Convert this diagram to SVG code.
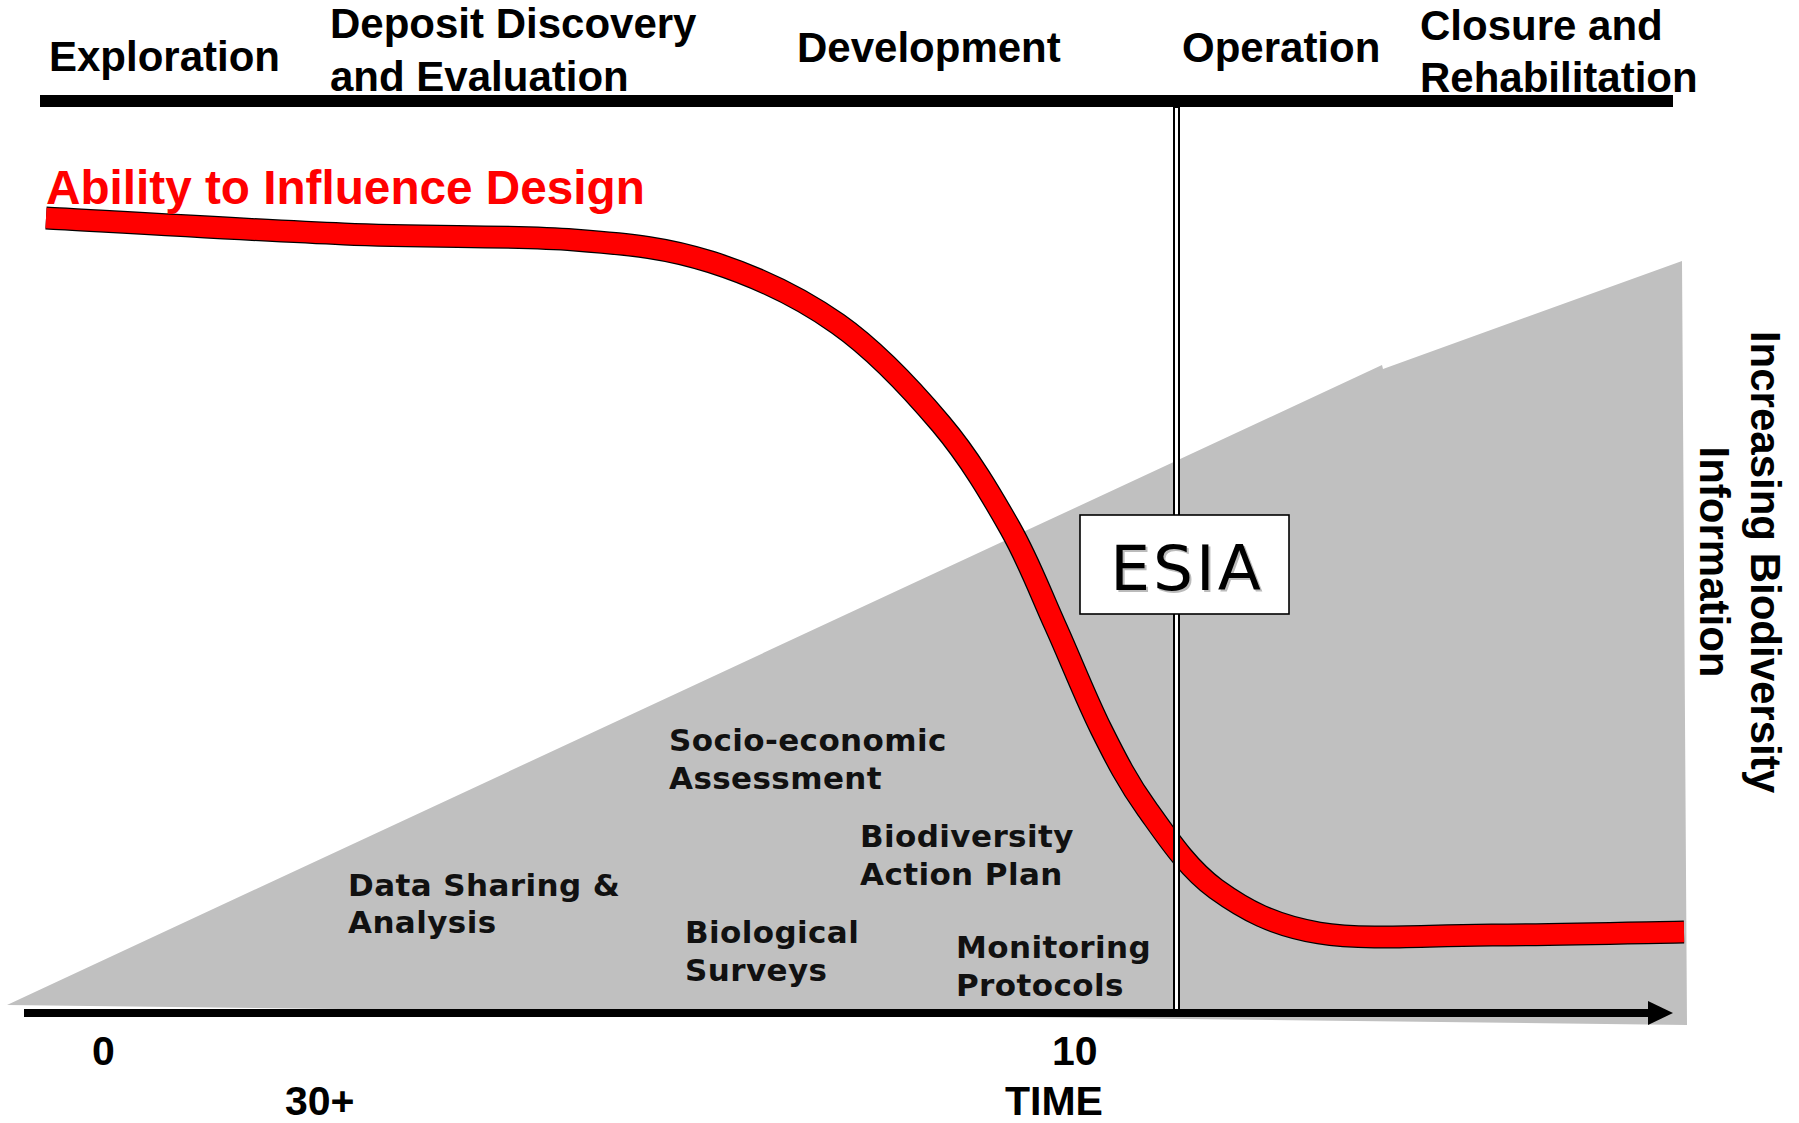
<svg xmlns="http://www.w3.org/2000/svg" width="1799" height="1123" viewBox="0 0 1799 1123">
<defs>
<style>
.hdr{font-family:"Liberation Sans",Arial,sans-serif;font-weight:bold;font-size:42px;fill:#000}
.ttl{font-family:"Liberation Sans",Arial,sans-serif;font-weight:bold;font-size:47.7px;fill:#FF0000}
.lbl{font-family:"DejaVu Sans",Verdana,sans-serif;font-weight:bold;font-size:31px;letter-spacing:0.4px;fill:#111}
.ax{font-family:"Liberation Sans",Arial,sans-serif;font-weight:bold;font-size:41px;fill:#000}
.esia{font-family:"DejaVu Sans",Verdana,sans-serif;font-size:63px;letter-spacing:3px}
</style>
</defs>
<rect width="1799" height="1123" fill="#FFFFFF"/>
<g id="info-wedge">
<polygon points="7,1005 1382,365 1383,369 1682,261 1687,1025" fill="#C0C0C0"/>
</g>
<g id="connectors">
<line id="top-bar" x1="40" y1="101" x2="1673" y2="101" stroke="#000" stroke-width="12"/>
<line id="time-axis" x1="24" y1="1013" x2="1650" y2="1013" stroke="#000" stroke-width="8"/>
<polygon id="time-arrowhead" points="1648,1001 1673,1013 1648,1025" fill="#000"/>
</g>
<g id="influence-curve">
<path id="curve-outline" d="M46,218 C95.7,220.7 256,230.3 344,234 C432,237.7 512.8,235.3 574,240 C635.2,244.7 667,248 711,262 C755,276 799.7,297 838,324 C876.3,351 912.3,390 941,424 C969.7,458 991,494.5 1010,528 C1029,561.5 1039.8,591.5 1055,625 C1070.2,658.5 1085.7,698.3 1101,729 C1116.3,759.7 1127.8,782.3 1147,809 C1166.2,835.7 1187.3,868.3 1216,889 C1244.7,909.7 1273,925.3 1319,933 C1365,940.7 1431.2,935.2 1492,935 C1552.8,934.8 1652,932.5 1684,932" fill="none" stroke="#000" stroke-width="23"/>
<path id="curve-fill" d="M46,218 C95.7,220.7 256,230.3 344,234 C432,237.7 512.8,235.3 574,240 C635.2,244.7 667,248 711,262 C755,276 799.7,297 838,324 C876.3,351 912.3,390 941,424 C969.7,458 991,494.5 1010,528 C1029,561.5 1039.8,591.5 1055,625 C1070.2,658.5 1085.7,698.3 1101,729 C1116.3,759.7 1127.8,782.3 1147,809 C1166.2,835.7 1187.3,868.3 1216,889 C1244.7,909.7 1273,925.3 1319,933 C1365,940.7 1431.2,935.2 1492,935 C1552.8,934.8 1652,932.5 1684,932" fill="none" stroke="#FF0000" stroke-width="20.5"/>
</g>
<g id="esia-divider">
<rect x="1174" y="107" width="5" height="903" fill="#FFFFFF" stroke="#000" stroke-width="2"/>
</g>
<g id="esia">
<rect x="1080" y="515" width="209" height="99" fill="#FFFFFF" stroke="#000" stroke-width="1.6"/>
<text class="esia" x="1189" y="592" text-anchor="middle" fill="#BBBBBB">ESIA</text>
<text class="esia" x="1187" y="590" text-anchor="middle" fill="#000">ESIA</text>
</g>
<g id="phase-exploration"><text class="hdr" x="49" y="71">Exploration</text></g>
<g id="phase-deposit"><text class="hdr" x="330" y="38">Deposit Discovery</text><text class="hdr" x="330" y="91">and Evaluation</text></g>
<g id="phase-development"><text class="hdr" x="797" y="62">Development</text></g>
<g id="phase-operation"><text class="hdr" x="1182" y="62">Operation</text></g>
<g id="phase-closure"><text class="hdr" x="1420" y="40">Closure and</text><text class="hdr" x="1420" y="92">Rehabilitation</text></g>
<g id="title"><text class="ttl" x="46" y="204">Ability to Influence Design</text></g>
<g id="data-sharing"><text class="lbl" x="348" y="896">Data Sharing &amp;</text><text class="lbl" x="348" y="933">Analysis</text></g>
<g id="socio-economic"><text class="lbl" x="669" y="751">Socio-economic</text><text class="lbl" x="669" y="789">Assessment</text></g>
<g id="bap"><text class="lbl" x="860" y="847">Biodiversity</text><text class="lbl" x="860" y="885">Action Plan</text></g>
<g id="bio-surveys"><text class="lbl" x="685" y="943">Biological</text><text class="lbl" x="685" y="981">Surveys</text></g>
<g id="monitoring"><text class="lbl" x="956" y="958">Monitoring</text><text class="lbl" x="956" y="996">Protocols</text></g>
<g id="axis-labels">
<text class="ax" x="92" y="1065">0</text>
<text class="ax" x="285" y="1115">30+</text>
<text class="ax" x="1052" y="1065">10</text>
<text class="ax" x="1005" y="1115">TIME</text>
</g>
<g id="side-label" transform="translate(1751,562) rotate(90)">
<text class="hdr" x="0" y="0" text-anchor="middle">Increasing Biodiversity</text>
<text class="hdr" x="0" y="51" text-anchor="middle">Information</text>
</g>
</svg>
